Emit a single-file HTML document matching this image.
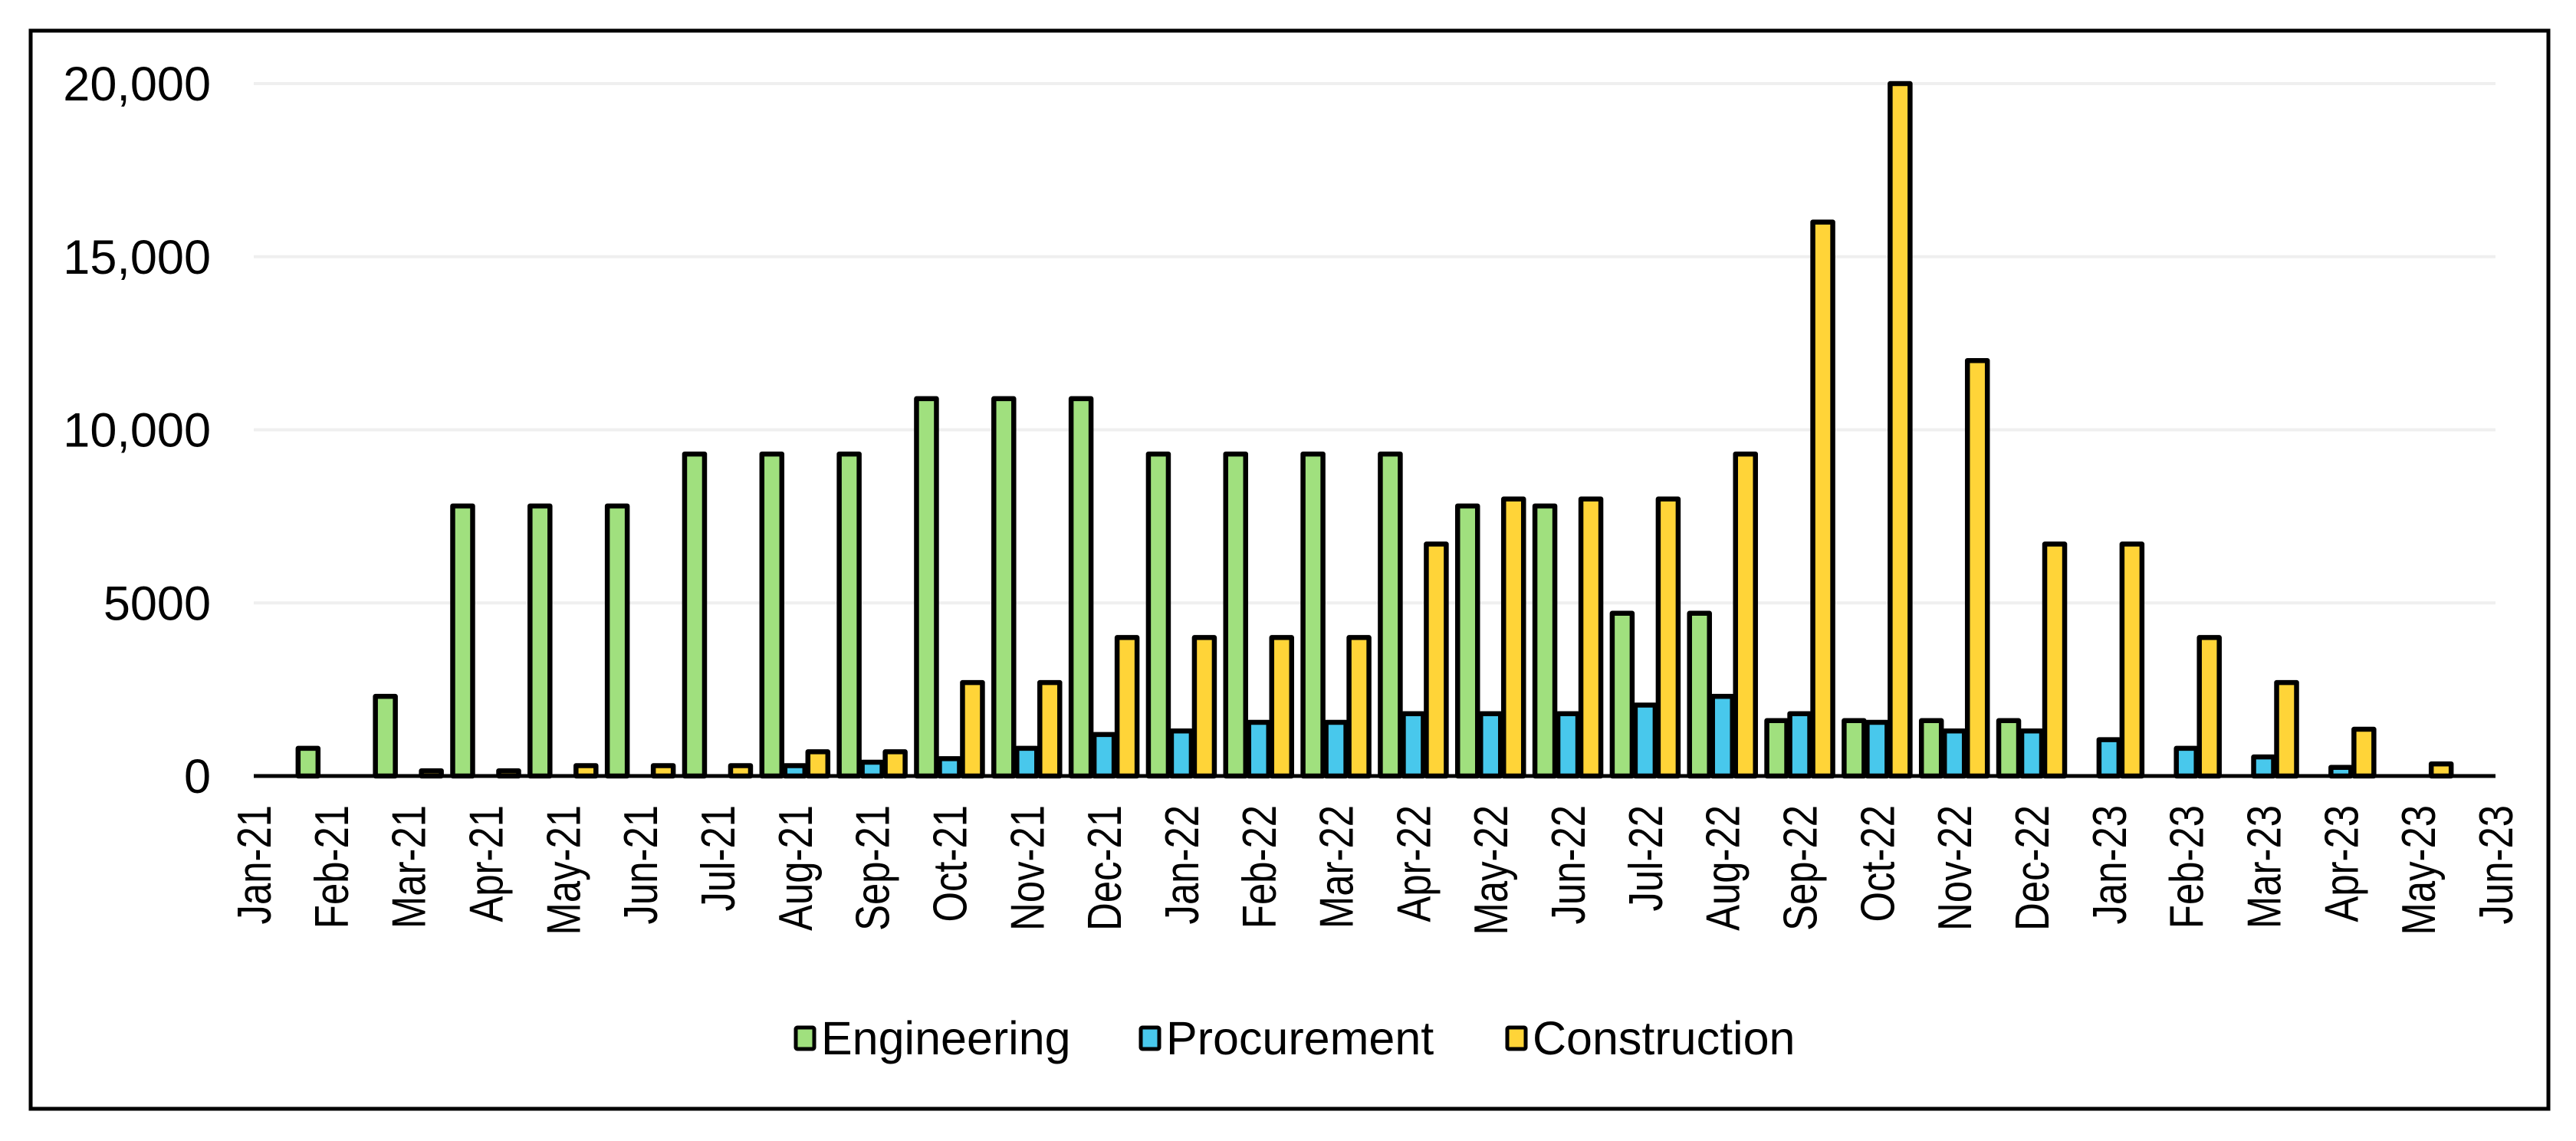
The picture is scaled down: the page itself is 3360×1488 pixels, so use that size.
<!DOCTYPE html>
<html><head><meta charset="utf-8"><style>
html,body{margin:0;padding:0;background:#fff;}
svg{display:block;font-family:"Liberation Sans",Arial,sans-serif;}
</style></head><body>
<svg id="chart" width="3360" height="1488" viewBox="0 0 3360 1488">
<rect x="40" y="40" width="3284" height="1406" fill="#fff" stroke="#000" stroke-width="5"/>
<g id="grid"></g>
<g id="ylabels"></g>
<g id="bars"></g>
<g id="xlabels"></g>
<line id="xaxis" stroke="#000" stroke-width="5"/>
<g id="legend"></g>
</svg>
<script>
const months = ["Jan-21","Feb-21","Mar-21","Apr-21","May-21","Jun-21","Jul-21","Aug-21","Sep-21","Oct-21","Nov-21","Dec-21","Jan-22","Feb-22","Mar-22","Apr-22","May-22","Jun-22","Jul-22","Aug-22","Sep-22","Oct-22","Nov-22","Dec-22","Jan-23","Feb-23","Mar-23","Apr-23","May-23","Jun-23"];
const engineering = [0,800,2300,7800,7800,7800,9300,9300,9300,10900,10900,10900,9300,9300,9300,9300,7800,7800,4700,4700,1600,1600,1600,1600,0,0,0,0,0,0];
const procurement = [0,0,0,0,0,0,0,300,400,500,800,1200,1300,1550,1550,1800,1800,1800,2050,2300,1800,1550,1300,1300,1050,800,550,250,0,0];
const construction = [0,0,150,150,300,300,300,700,700,2700,2700,4000,4000,4000,4000,6700,8000,8000,8000,9300,16000,20000,12000,6700,6700,4000,2700,1350,350,0];
const yTicks = [0,5000,10000,15000,20000];
const yTickLabels = ["0","5000","10,000","15,000","20,000"];
const seriesNames = ["Engineering","Procurement","Construction"];

const NS="http://www.w3.org/2000/svg";
const X0=331, X1=3255, Y0=1012, YTOP=109, YMAX=20000;
const xs = i => X0 + i*(X1-X0)/(months.length-1);
const ys = v => Y0 - v*(Y0-YTOP)/YMAX;
function mk(tag,attrs,parent){const e=document.createElementNS(NS,tag);for(const k in attrs)e.setAttribute(k,attrs[k]);parent.appendChild(e);return e;}
const grid=document.getElementById('grid'), yl=document.getElementById('ylabels'), bars=document.getElementById('bars'), xl=document.getElementById('xlabels'), lg=document.getElementById('legend');
yTicks.forEach((t,i)=>{
  if(t>0){const g=mk('line',{x1:X0,x2:X1,y1:ys(t),y2:ys(t),stroke:'#efefef','stroke-width':4},grid);
  
  }
  const tx=mk('text',{x:275,y:ys(t)+22,'text-anchor':'end','font-size':63,fill:'#000'},yl);
  tx.textContent=yTickLabels[i];
  
  
});
const ax=document.getElementById('xaxis');ax.setAttribute('x1',X0);ax.setAttribute('x2',X1);ax.setAttribute('y1',Y0);ax.setAttribute('y2',Y0);
const colors=["#a0e07e","#48c8ec","#ffd438"];
const series=[engineering,procurement,construction];
const BW=26, OFF=30;
series.forEach((s,si)=>{
  s.forEach((v,i)=>{
    if(v<=0)return;
    const cx=xs(i)+(si-1)*OFF;
    const r=mk('rect',{x:cx-BW/2,y:ys(v),width:BW,height:Y0-ys(v),fill:colors[si],stroke:'#000','stroke-width':6.5,'stroke-linejoin':'round'},bars);
    
    
  });
});
months.forEach((m,i)=>{
  const t=mk('text',{x:0,y:0,'text-anchor':'end','font-size':62,fill:'#000',transform:`translate(${xs(i)+22},1050) rotate(-90) scale(0.82,1)`},xl);
  t.textContent=m;
  
  
});
const legX=[1038,1488,1966];
seriesNames.forEach((n,i)=>{
  const sq=mk('rect',{x:legX[i],y:1340,width:24,height:28,fill:colors[i],stroke:'#000','stroke-width':5,rx:2},lg);
  
  
  const t=mk('text',{x:legX[i]+33,y:1375,'font-size':61,fill:'#000'},lg);
  t.textContent=n;
  
  
});
</script>
</body></html>
